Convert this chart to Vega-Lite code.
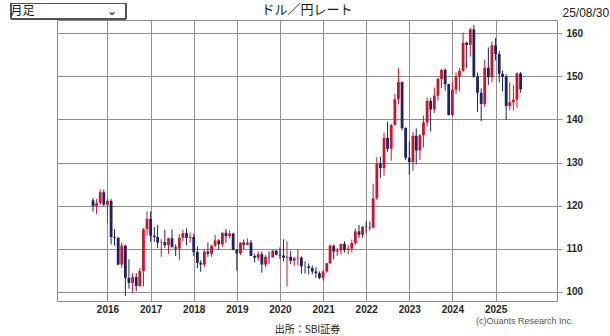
{
"$schema": "https://vega.github.io/schema/vega-lite/v6.json",
"width": 500, "height": 281,
"autosize": {"type": "none"},
"padding": {"left": 57, "top": 20, "right": 53, "bottom": 35},
"background": "white",
"title": {"text": "ドル／円レート", "anchor": "middle", "font": "Noto Sans CJK JP", "fontSize": 13, "fontWeight": "normal", "color": "#1a1a1a", "offset": 3, "dy": 17},
"config": {
  "view": {"stroke": "#8a8a8a", "strokeWidth": 1},
  "axis": {"gridColor": "#8f8f8f", "gridWidth": 1, "gridOpacity": 1, "domain": false}
},
"data": {"values": [
{"d":"2015-09-01","o":121.2,"h":121.75,"l":118.6,"c":119.9},
{"d":"2015-10-01","o":119.9,"h":121.5,"l":118.07,"c":120.6},
{"d":"2015-11-01","o":120.6,"h":123.76,"l":120.2,"c":123.1},
{"d":"2015-12-01","o":123.1,"h":123.7,"l":119.9,"c":120.2},
{"d":"2016-01-01","o":120.2,"h":121.7,"l":115.98,"c":121.1},
{"d":"2016-02-01","o":121.1,"h":121.5,"l":110.98,"c":112.7},
{"d":"2016-03-01","o":112.7,"h":114.55,"l":110.67,"c":112.5},
{"d":"2016-04-01","o":112.5,"h":112.7,"l":106.1,"c":106.3},
{"d":"2016-05-01","o":106.3,"h":111.45,"l":105.5,"c":110.7},
{"d":"2016-06-01","o":110.7,"h":110.9,"l":99.0,"c":103.2},
{"d":"2016-07-01","o":103.2,"h":107.5,"l":100.7,"c":102.05},
{"d":"2016-08-01","o":102.05,"h":104.3,"l":99.55,"c":103.4},
{"d":"2016-09-01","o":103.4,"h":104.3,"l":100.1,"c":101.3},
{"d":"2016-10-01","o":101.3,"h":105.5,"l":101.2,"c":104.8},
{"d":"2016-11-01","o":104.8,"h":114.8,"l":101.2,"c":114.5},
{"d":"2016-12-01","o":114.5,"h":118.66,"l":113.0,"c":116.9},
{"d":"2017-01-01","o":116.9,"h":118.6,"l":111.6,"c":113.0},
{"d":"2017-02-01","o":113.0,"h":115.0,"l":111.6,"c":112.7},
{"d":"2017-03-01","o":112.7,"h":115.5,"l":110.1,"c":111.4},
{"d":"2017-04-01","o":111.4,"h":112.2,"l":108.1,"c":111.5},
{"d":"2017-05-01","o":111.5,"h":114.4,"l":110.2,"c":110.8},
{"d":"2017-06-01","o":110.8,"h":112.5,"l":108.8,"c":112.4},
{"d":"2017-07-01","o":112.4,"h":114.5,"l":110.6,"c":110.3},
{"d":"2017-08-01","o":110.3,"h":111.0,"l":108.3,"c":110.0},
{"d":"2017-09-01","o":110.0,"h":113.3,"l":107.3,"c":112.5},
{"d":"2017-10-01","o":112.5,"h":114.4,"l":111.7,"c":113.6},
{"d":"2017-11-01","o":113.6,"h":114.7,"l":110.8,"c":112.5},
{"d":"2017-12-01","o":112.5,"h":113.75,"l":111.4,"c":112.7},
{"d":"2018-01-01","o":112.7,"h":113.4,"l":108.3,"c":109.2},
{"d":"2018-02-01","o":109.2,"h":110.5,"l":105.5,"c":106.7},
{"d":"2018-03-01","o":106.7,"h":107.3,"l":104.6,"c":106.3},
{"d":"2018-04-01","o":106.3,"h":109.8,"l":105.7,"c":109.3},
{"d":"2018-05-01","o":109.3,"h":111.4,"l":108.1,"c":108.8},
{"d":"2018-06-01","o":108.8,"h":110.9,"l":108.1,"c":110.7},
{"d":"2018-07-01","o":110.7,"h":113.2,"l":110.3,"c":111.9},
{"d":"2018-08-01","o":111.9,"h":112.2,"l":109.8,"c":111.0},
{"d":"2018-09-01","o":111.0,"h":113.7,"l":110.4,"c":113.7},
{"d":"2018-10-01","o":113.7,"h":114.55,"l":111.4,"c":112.9},
{"d":"2018-11-01","o":112.9,"h":114.2,"l":112.3,"c":113.5},
{"d":"2018-12-01","o":113.5,"h":113.7,"l":109.6,"c":109.7},
{"d":"2019-01-01","o":109.7,"h":109.9,"l":104.9,"c":108.9},
{"d":"2019-02-01","o":108.9,"h":111.5,"l":108.5,"c":111.4},
{"d":"2019-03-01","o":111.4,"h":112.1,"l":109.7,"c":110.9},
{"d":"2019-04-01","o":110.9,"h":112.4,"l":110.8,"c":111.4},
{"d":"2019-05-01","o":111.4,"h":112.0,"l":108.3,"c":108.3},
{"d":"2019-06-01","o":108.3,"h":108.8,"l":106.8,"c":107.9},
{"d":"2019-07-01","o":107.9,"h":109.3,"l":107.2,"c":108.7},
{"d":"2019-08-01","o":108.7,"h":109.3,"l":104.4,"c":106.3},
{"d":"2019-09-01","o":106.3,"h":108.5,"l":105.7,"c":108.1},
{"d":"2019-10-01","o":108.1,"h":109.3,"l":106.5,"c":108.0},
{"d":"2019-11-01","o":108.0,"h":109.7,"l":107.9,"c":109.5},
{"d":"2019-12-01","o":109.5,"h":109.7,"l":108.4,"c":108.6},
{"d":"2020-01-01","o":108.6,"h":110.3,"l":107.65,"c":108.4},
{"d":"2020-02-01","o":108.4,"h":112.2,"l":107.0,"c":107.9},
{"d":"2020-03-01","o":107.9,"h":111.7,"l":101.2,"c":108.1},
{"d":"2020-04-01","o":108.1,"h":109.4,"l":106.4,"c":107.2},
{"d":"2020-05-01","o":107.2,"h":108.1,"l":105.99,"c":107.8},
{"d":"2020-06-01","o":107.8,"h":109.85,"l":106.1,"c":107.9},
{"d":"2020-07-01","o":107.9,"h":108.2,"l":104.2,"c":105.9},
{"d":"2020-08-01","o":105.9,"h":107.05,"l":104.2,"c":105.9},
{"d":"2020-09-01","o":105.9,"h":106.55,"l":104.0,"c":105.5},
{"d":"2020-10-01","o":105.5,"h":106.1,"l":104.0,"c":104.7},
{"d":"2020-11-01","o":104.7,"h":105.7,"l":103.2,"c":104.3},
{"d":"2020-12-01","o":104.3,"h":104.7,"l":102.9,"c":103.2},
{"d":"2021-01-01","o":103.2,"h":104.9,"l":102.6,"c":104.7},
{"d":"2021-02-01","o":104.7,"h":106.7,"l":104.4,"c":106.6},
{"d":"2021-03-01","o":106.6,"h":110.95,"l":106.4,"c":110.7},
{"d":"2021-04-01","o":110.7,"h":110.95,"l":107.5,"c":109.3},
{"d":"2021-05-01","o":109.3,"h":110.2,"l":108.3,"c":109.6},
{"d":"2021-06-01","o":109.6,"h":111.1,"l":108.6,"c":111.1},
{"d":"2021-07-01","o":111.1,"h":111.7,"l":109.1,"c":109.7},
{"d":"2021-08-01","o":109.7,"h":110.8,"l":108.7,"c":110.0},
{"d":"2021-09-01","o":110.0,"h":112.1,"l":109.1,"c":111.3},
{"d":"2021-10-01","o":111.3,"h":114.7,"l":110.8,"c":114.0},
{"d":"2021-11-01","o":114.0,"h":115.5,"l":112.5,"c":113.2},
{"d":"2021-12-01","o":113.2,"h":115.2,"l":112.5,"c":115.1},
{"d":"2022-01-01","o":115.1,"h":116.35,"l":113.5,"c":115.0},
{"d":"2022-02-01","o":115.0,"h":116.3,"l":114.2,"c":114.9},
{"d":"2022-03-01","o":114.9,"h":125.1,"l":114.65,"c":121.7},
{"d":"2022-04-01","o":121.7,"h":131.25,"l":121.3,"c":129.8},
{"d":"2022-05-01","o":129.8,"h":131.35,"l":126.4,"c":128.7},
{"d":"2022-06-01","o":128.7,"h":137.0,"l":126.9,"c":135.7},
{"d":"2022-07-01","o":135.7,"h":139.4,"l":132.5,"c":133.2},
{"d":"2022-08-01","o":133.2,"h":139.0,"l":130.4,"c":138.7},
{"d":"2022-09-01","o":138.7,"h":145.9,"l":138.6,"c":144.7},
{"d":"2022-10-01","o":144.7,"h":151.95,"l":143.5,"c":148.7},
{"d":"2022-11-01","o":148.7,"h":148.8,"l":137.5,"c":138.0},
{"d":"2022-12-01","o":138.0,"h":138.2,"l":130.6,"c":131.1},
{"d":"2023-01-01","o":131.1,"h":134.8,"l":127.2,"c":130.1},
{"d":"2023-02-01","o":130.1,"h":137.1,"l":128.1,"c":136.2},
{"d":"2023-03-01","o":136.2,"h":137.9,"l":129.6,"c":132.8},
{"d":"2023-04-01","o":132.8,"h":136.6,"l":130.6,"c":136.3},
{"d":"2023-05-01","o":136.3,"h":140.9,"l":133.5,"c":139.3},
{"d":"2023-06-01","o":139.3,"h":145.07,"l":138.4,"c":144.3},
{"d":"2023-07-01","o":144.3,"h":145.0,"l":137.2,"c":142.3},
{"d":"2023-08-01","o":142.3,"h":147.4,"l":141.5,"c":145.5},
{"d":"2023-09-01","o":145.5,"h":149.7,"l":144.4,"c":149.4},
{"d":"2023-10-01","o":149.4,"h":151.7,"l":147.3,"c":151.5},
{"d":"2023-11-01","o":151.5,"h":151.9,"l":146.7,"c":148.2},
{"d":"2023-12-01","o":148.2,"h":148.3,"l":140.95,"c":141.0},
{"d":"2024-01-01","o":141.0,"h":148.8,"l":140.8,"c":146.9},
{"d":"2024-02-01","o":146.9,"h":150.9,"l":145.9,"c":150.0},
{"d":"2024-03-01","o":150.0,"h":151.97,"l":146.5,"c":151.3},
{"d":"2024-04-01","o":151.3,"h":160.2,"l":151.0,"c":157.8},
{"d":"2024-05-01","o":157.8,"h":157.99,"l":151.9,"c":157.3},
{"d":"2024-06-01","o":157.3,"h":161.3,"l":154.6,"c":160.9},
{"d":"2024-07-01","o":160.9,"h":161.95,"l":149.6,"c":150.0},
{"d":"2024-08-01","o":150.0,"h":150.9,"l":141.7,"c":146.2},
{"d":"2024-09-01","o":146.2,"h":147.2,"l":139.6,"c":143.6},
{"d":"2024-10-01","o":143.6,"h":153.9,"l":142.9,"c":152.0},
{"d":"2024-11-01","o":152.0,"h":156.75,"l":148.0,"c":149.8},
{"d":"2024-12-01","o":149.8,"h":158.1,"l":148.6,"c":157.2},
{"d":"2025-01-01","o":157.2,"h":158.9,"l":153.7,"c":155.2},
{"d":"2025-02-01","o":155.2,"h":155.9,"l":148.6,"c":150.6},
{"d":"2025-03-01","o":150.6,"h":151.3,"l":146.5,"c":149.9},
{"d":"2025-04-01","o":149.9,"h":150.5,"l":139.9,"c":143.1},
{"d":"2025-05-01","o":143.1,"h":148.6,"l":142.1,"c":144.0},
{"d":"2025-06-01","o":144.0,"h":148.0,"l":142.1,"c":144.6},
{"d":"2025-07-01","o":144.6,"h":150.9,"l":142.7,"c":150.7},
{"d":"2025-08-01","o":150.7,"h":151.0,"l":146.2,"c":147.0}
]},
"layer": [
  {
    "mark": {"type": "rule", "strokeWidth": 1},
    "encoding": {
      "x": {"field": "d", "type": "temporal",
        "scale": {"type": "utc", "domain": [{"year": 2014, "month": 12, "date": 12, "utc": true}, {"year": 2026, "month": 4, "date": 24, "utc": true}]},
        "axis": {"orient": "bottom", "format": "%Y", "grid": true, "ticks": false, "labelPadding": 3,
          "values": [{"year": 2016, "utc": true}, {"year": 2017, "utc": true}, {"year": 2018, "utc": true}, {"year": 2019, "utc": true}, {"year": 2020, "utc": true}, {"year": 2021, "utc": true}, {"year": 2022, "utc": true}, {"year": 2023, "utc": true}, {"year": 2024, "utc": true}, {"year": 2025, "utc": true}],
          "labelFont": "Liberation Sans", "labelFontSize": 10, "labelFontWeight": "bold", "labelColor": "#262626",
          "title": "出所：SBI証券", "titleFont": "Noto Sans CJK JP", "titleFontSize": 10, "titleFontWeight": "normal", "titleColor": "#222222", "titleBaseline": "alphabetic", "titleY": 31}},
      "y": {"field": "l", "type": "quantitative",
        "scale": {"domain": [97.84, 163.09], "nice": false, "zero": false},
        "axis": {"orient": "right", "values": [100, 110, 120, 130, 140, 150, 160], "grid": true, "tickSize": 5, "tickColor": "#8f8f8f", "labelPadding": 4,
          "labelFont": "Liberation Sans", "labelFontSize": 10, "labelFontWeight": "bold", "labelColor": "#262626",
          "title": "25/08/30", "titleAngle": 0, "titleAlign": "left", "titleBaseline": "alphabetic", "titleX": 5, "titleY": -4,
          "titleFont": "Liberation Sans", "titleFontSize": 12, "titleFontWeight": "normal", "titleColor": "#222222"}},
      "y2": {"field": "h"},
      "color": {"condition": {"test": "datum.c > datum.o", "value": "#d0132d"}, "value": "#1c2262"}
    }
  },
  {
    "mark": {"type": "bar", "size": 2.8},
    "encoding": {
      "x": {"field": "d", "type": "temporal", "axis": null},
      "y": {"field": "o", "type": "quantitative", "axis": null},
      "y2": {"field": "c"},
      "color": {"condition": {"test": "datum.c > datum.o", "value": "#d0132d"}, "value": "#1c2262"}
    }
  },
  {
    "mark": {"type": "rect", "fill": "transparent", "stroke": "#555555", "strokeWidth": 1},
    "encoding": {
      "x": {"datum": {"year": 2013, "month": 10, "date": 7, "utc": true}, "type": "temporal",
        "axis": {"orient": "top", "grid": false, "labels": false, "ticks": false, "domain": false, "zindex": 2,
          "title": "月足　　　　　　⌄", "titleAlign": "left", "titleBaseline": "alphabetic", "titleX": -47, "titleY": -5.5,
          "titleFont": "Noto Sans CJK JP", "titleFontSize": 12, "titleFontWeight": "normal", "titleColor": "#111111"}},
      "x2": {"datum": {"year": 2016, "month": 6, "date": 3, "utc": true}},
      "y": {"datum": 166.92, "type": "quantitative",
        "axis": {"orient": "left", "grid": false, "labels": false, "ticks": false, "domain": false,
          "title": "(c)Ouants Research Inc.", "titleAngle": 0, "titleAlign": "right", "titleBaseline": "alphabetic", "titleX": 516, "titleY": 303,
          "titleFont": "Liberation Sans", "titleFontSize": 9, "titleFontWeight": "normal", "titleColor": "#555555"}},
      "y2": {"datum": 163.32}
    }
  }
],
"resolve": {"axis": {"x": "independent", "y": "independent"}}
}
